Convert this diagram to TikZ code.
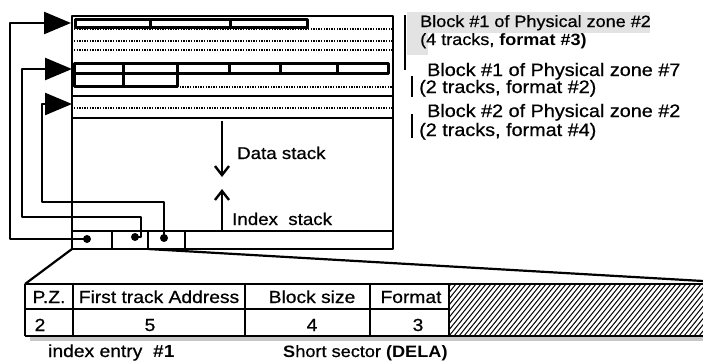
\documentclass[tikz,border=0pt]{standalone}
\usepackage{fontspec}
\setmainfont{Liberation Sans}[FakeStretch=1.1,UprightFeatures={FakeBold=0.7}]
\usetikzlibrary{arrows.meta}
\begin{document}
\begin{tikzpicture}[x=1pt,y=-1pt,line join=round,
  outline/.style={line width=2.6pt},
  trk/.style={line width=3pt},
  dotline/.style={line width=2pt,dash pattern=on 1.3pt off 1.3pt},
  wire/.style={line width=2.5pt},
  bigarrow/.style={-{Triangle[length=27pt,width=22pt]}},
  stackarrow/.style={line width=2.4pt,-{Straight Barb[length=9pt,width=14pt,line width=2.4pt]}},
  pin/.style={circle,fill,inner sep=0pt,minimum size=8pt},
  lblA/.style={anchor=base west,inner sep=0pt,font=\fontsize{16.4}{18}\selectfont},
  lblB/.style={anchor=base west,inner sep=0pt,font=\fontsize{18}{20}\selectfont},
  stk/.style={anchor=base west,inner sep=0pt,font=\fontsize{17}{19}\selectfont},
  cell/.style={anchor=base,inner sep=0pt,font=\fontsize{17.5}{19}\selectfont},
  tline/.style={line width=2.2pt},
  bracket/.style={line width=2.8pt}]
\useasboundingbox (0,0) rectangle (703,362);

% scan highlight behind first label
\fill[black!11] (407,12) rectangle (650,33);
\fill[black!11] (407,33) rectangle (428,55);

% main box
\draw[outline] (72,16) rectangle (393,249);

% zone 1: block #1 of PZ #2 (4 tracks)
\draw[dotline] (74,29) -- (392,29);
\draw[dotline] (74,41) -- (392,41);
\draw[dotline] (74,50) -- (392,50);
\draw[trk] (75,19) rectangle (150,27);
\draw[trk] (150,19) rectangle (230,27);
\draw[trk] (230,19) rectangle (307,27);

% zone 2: block #1 of PZ #7 (2 tracks)
\draw[trk] (74,63) rectangle (123,73);
\draw[trk] (123,63) rectangle (177,73);
\draw[trk] (177,63) rectangle (229,73);
\draw[trk] (229,63) rectangle (280,73);
\draw[trk] (280,63) rectangle (337,73);
\draw[trk] (337,63) rectangle (388,73);
\draw[trk] (74,73) rectangle (123,86);
\draw[trk] (123,73) rectangle (177,86);
\draw[dotline] (177,87) -- (392,87);
\draw[outline] (72,96) -- (393,96);

% zone 3: block #2 of PZ #2 (2 tracks)
\draw[dotline] (74,108) -- (392,108);
\draw[outline] (72,118) -- (393,118);

% index row
\draw[outline] (72,231) -- (393,231);
\draw[outline] (112,231) -- (112,249);
\draw[outline] (148,231) -- (148,249);
\draw[outline] (185,231) -- (185,249);

% stacks
\draw[stackarrow] (222,121) -- (222,177);
\node[stk] (ds) at (237,159) {Data stack};
\draw[stackarrow] (222,231) -- (222,189);
\node[stk] (is) at (232,225) {Index\ \ stack};

% index pointers
\node[pin] (d1) at (87,239) {};
\node[pin] (d2) at (135,237) {};
\node[pin] (d3) at (164,238) {};
\coordinate (t1) at (71,23);
\coordinate (t2) at (72,69);
\coordinate (t3) at (72,104);
\draw[wire,bigarrow] (d1.center) -| (10,23) -- (t1);
\draw[wire,bigarrow] (d2.center) -- ++(6,0) |- (22,217) |- (t2);
\draw[wire,bigarrow] (d3.center) |- (42,202) |- (t3);

% right labels
\draw[bracket] (405,15) -- (405,70);
\draw[bracket] (412,76) -- (412,97);
\draw[bracket] (412,114) -- (412,138);
\node[lblA] (l1a) at (420,27) {Block \#1 of Physical zone \#2};
\node[lblA] (l1b) at (420,45) {(4 tracks, \textbf{format \#3)}};
\node[lblB] (l2a) at (427,76) {Block \#1 of Physical zone \#7};
\node[lblB] (l2b) at (419,93) {(2 tracks, format \#2)};
\node[lblB] (l3a) at (427,117) {Block \#2 of Physical zone \#2};
\node[lblB] (l3b) at (419,136) {(2 tracks, format \#4)};

% funnel
\draw[tline] (72,249) -- (25,284);
\draw[tline] (148,249) -- (703,281);

% hatch
\begin{scope}
\clip (449,284) rectangle (703,336);
\foreach \i in {0,...,60} {
  \draw[line width=1pt] (449-50+\i*5,336) -- ++(42,-52);
}
\end{scope}

% shadow under table
\fill[black!22] (30,337) rectangle (703,341);

% table
\draw[tline] (25,284) -- (703,284);
\draw[tline] (25,309) -- (449,309);
\draw[tline] (25,336) -- (703,336);
\foreach \x in {25,73,245,370,449} {
  \draw[tline] (\x,284) -- (\x,336);
}
\node[cell] (c1) at (49,303) {P.Z.};
\node[cell] (c2) at (159,303) {First track Address};
\node[cell] (c3) at (312,303) {Block size};
\node[cell] (c4) at (411,303) {Format};
\node[cell] (v1) at (40,331) {2};
\node[cell] (v2) at (150,331) {5};
\node[cell] (v3) at (312,331) {4};
\node[cell] (v4) at (418,331) {3};
\node[anchor=base west,inner sep=0pt,font=\fontsize{17.5}{19}\selectfont] (ie) at (48,357) {index entry\ \ \textbf{\#1}};
\node[anchor=base west,inner sep=0pt,font=\fontsize{16.5}{19}\selectfont] (ss) at (283,357) {\textbf{S}hort sector \textbf{(DELA)}};
\end{tikzpicture}
\end{document}
